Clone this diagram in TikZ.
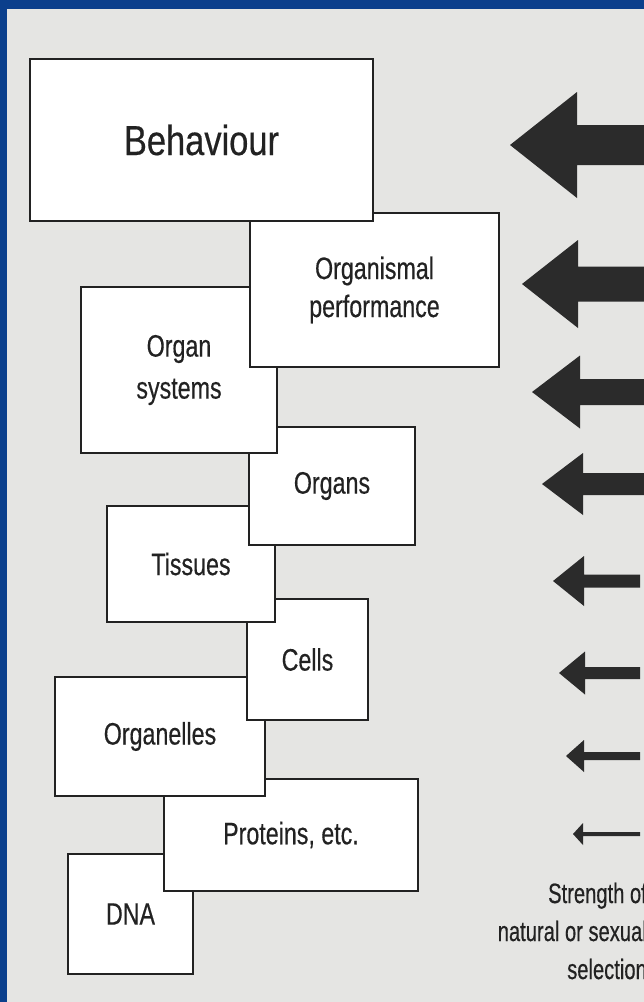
\documentclass[tikz,border=0pt]{standalone}
\usepackage{fontspec}
\newfontfamily\lab{Liberation Sans}[FakeStretch=0.75,FakeBold=0.4]
\newfontfamily\labwide{Liberation Sans}[FakeStretch=0.82,FakeBold=0.4]
\newfontfamily\labcap{Liberation Sans}[FakeStretch=0.72,FakeBold=0.4]
\definecolor{bgray}{HTML}{E5E5E3}
\definecolor{frameblue}{HTML}{0B3F8C}
\definecolor{ink}{HTML}{222222}
\definecolor{arrowfill}{HTML}{2B2B2B}
\newcommand\selarrow[6]{%
  \fill[arrowfill] (#1,#2) -- (#3,#2-#4) -- (#3,#2-#5) -- (#6,#2-#5)
    -- (#6,#2+#5) -- (#3,#2+#5) -- (#3,#2+#4) -- cycle;}
\begin{document}
\begin{tikzpicture}[x=1pt,y=-1pt,
  level/.style={draw=ink, line width=1.3pt, fill=white, inner sep=0pt,
    rectangle, align=center, text=ink, font=\lab\fontsize{31}{38}\selectfont},
  caption/.style={inner sep=0pt, align=right, text=ink,
    font=\labcap\fontsize{28}{38}\selectfont}]
\clip (0,0) rectangle (644,1002);
\fill[bgray] (0,0) rectangle (644,1002);
\fill[frameblue] (0,0) rectangle (644,9);
\fill[frameblue] (0,0) rectangle (7,1002);
% boxes, bottom of stack first
\node[level, minimum width=125, minimum height=120] (dna) at (130.5,914) {DNA};
\node[level, minimum width=254, minimum height=112] (prot) at (291,835) {Proteins, etc.};
\node[level, minimum width=210, minimum height=119] (orgl) at (160,736.5) {Organelles};
\node[level, minimum width=121, minimum height=121] (cells) at (307.5,659.5) {Cells};
\node[level, minimum width=168, minimum height=116] (tiss) at (191,564) {Tissues};
\node[level, minimum width=166, minimum height=118] (orgs) at (332,486) {Organs};
\node[level, minimum width=196, minimum height=166, font=\lab\fontsize{31}{42}\selectfont] (osys) at (179,370) {Organ\\systems};
\node[level, minimum width=249, minimum height=154] (perf) at (374.5,290) {Organismal\\performance};
\node[level, minimum width=343, minimum height=162, font=\labwide\fontsize{42}{50}\selectfont] (beh) at (201.5,140) {Behaviour};
% selection-strength arrows
\selarrow{510}{145}{577}{53}{20}{650}
\selarrow{522}{284}{578}{44}{17.5}{650}
\selarrow{532}{392}{580}{36.5}{13}{650}
\selarrow{542}{484}{583}{31}{11}{650}
\selarrow{553}{581}{584}{25}{6.5}{640}
\selarrow{559}{673}{585}{21.5}{6}{640}
\selarrow{566}{756}{584}{16}{4}{640}
\selarrow{573}{834}{583}{11}{2}{640}
\node[caption, anchor=east] (strength) at (647,931) {Strength of\\natural or sexual\\selection};
\end{tikzpicture}
\end{document}
